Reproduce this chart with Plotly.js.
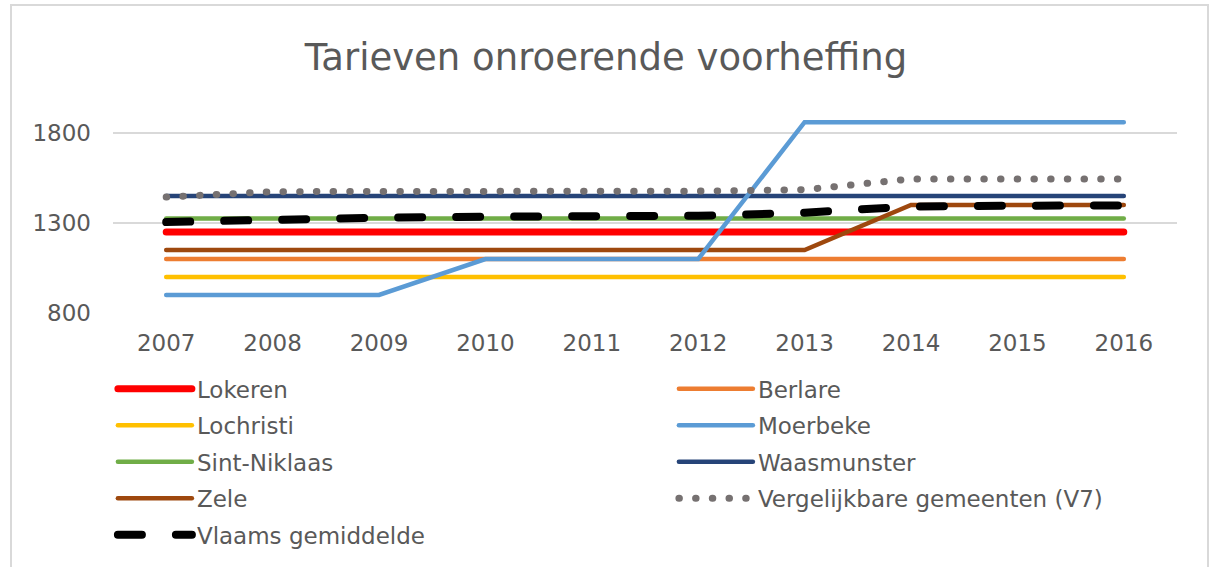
<!DOCTYPE html>
<html>
<head>
<meta charset="utf-8">
<script src="https://cdn.plot.ly/plotly-3.0.1.min.js"></script>
<style>
html,body{margin:0;padding:0;background:#fff;overflow:hidden;}
#wrap{position:relative;width:1212px;height:567px;}
#chart{position:absolute;left:0;top:0;width:1212px;height:567px;}
#frame{position:absolute;left:10px;top:4px;width:1195px;height:620px;border:2px solid #d9d9d9;pointer-events:none;}
#chart path.js-line{stroke-linecap:round;}
</style>
</head>
<body>
<div id="wrap"><div id="chart"></div><div id="frame"></div></div>
<script>
const years = ['2007','2008','2009','2010','2011','2012','2013','2014','2015','2016'];

const lokeren     = [1250,1250,1250,1250,1250,1250,1250,1250,1250,1250];
const berlare     = [1100,1100,1100,1100,1100,1100,1100,1100,1100,1100];
const lochristi   = [1000,1000,1000,1000,1000,1000,1000,1000,1000,1000];
const moerbeke    = [900,900,900,1100,1100,1100,1860,1860,1860,1860];
const sintNiklaas = [1325,1325,1325,1325,1325,1325,1325,1325,1325,1325];
const waasmunster = [1450,1450,1450,1450,1450,1450,1450,1450,1450,1450];
const zele        = [1150,1150,1150,1150,1150,1150,1150,1400,1400,1400];
const v7          = [1444,1474,1475,1475,1475,1477,1485,1545,1545,1545];
const vlaams      = [1305,1322,1330,1335,1338,1340,1357,1392,1396,1398];

const yTicks = [800,1300,1800];

function tr(name, y, color, width, dash, leg, rank){
  return {x: years, y: y, name: name, type: 'scatter', mode: 'lines',
    line: {color: color, width: width, dash: dash || 'solid'}, legend: leg, legendrank: rank};
}

const data = [
  tr('Lokeren', lokeren, '#FF0000', 7, null, 'legend', 1),
  tr('Berlare', berlare, '#ED7D31', 4.5, null, 'legend', 2),
  tr('Lochristi', lochristi, '#FFC000', 4.5, null, 'legend2', 1),
  tr('Sint-Niklaas', sintNiklaas, '#70AD47', 4.5, null, 'legend3', 1),
  tr('Waasmunster', waasmunster, '#264478', 4.5, null, 'legend3', 2),
  tr('Zele', zele, '#9E480E', 4.5, null, 'legend4', 1),
  tr('Moerbeke', moerbeke, '#5B9BD5', 4.5, null, 'legend2', 2),
  tr('Vergelijkbare gemeenten (V7)', v7, '#767171', 7, '0.5px,16.2px', 'legend4', 2),
  tr('Vlaams gemiddelde', vlaams, '#000000', 8, '24px,34px', 'legend5', 1)
];

function leg(y){
  return {orientation: 'h', x: -0.0001, xanchor: 'left', y: y, yanchor: 'top',
    entrywidth: 472, entrywidthmode: 'pixels', itemwidth: 74, tracegroupgap: 0,
    font: {size: 23, color: '#595959', family: 'Verdana, "DejaVu Sans", sans-serif'}, bgcolor: 'rgba(0,0,0,0)'};
}

const layout = {
  width: 1212, height: 567,
  margin: {l: 113, r: 35, t: 97, b: 254, autoexpand: false},
  paper_bgcolor: '#ffffff', plot_bgcolor: '#ffffff',
  font: {family: 'Verdana, "DejaVu Sans", sans-serif', color: '#595959', size: 23},
  title: {text: 'Tarieven onroerende voorheffing', x: 0.5, xanchor: 'center', y: 0.9, yanchor: 'middle', yref: 'container',
    font: {family: 'Verdana, "DejaVu Sans", sans-serif', size: 37, color: '#595959'}},
  xaxis: {type: 'category', range: [-0.5, 9.5], showgrid: false, zeroline: false,
    showline: false, ticks: '', ticklabelstandoff: 14, tickfont: {size: 23, color: '#595959'}},
  yaxis: {range: [800, 2000], tickvals: yTicks, ticktext: yTicks.map(String), showgrid: true,
    gridcolor: '#d9d9d9', gridwidth: 1.5, zeroline: false, showline: false, ticks: '',
    ticklabelstandoff: 21, tickfont: {size: 23, color: '#595959'}},
  showlegend: true,
  legend: leg(-0.2514),
  legend2: leg(-0.4204),
  legend3: leg(-0.5894),
  legend4: leg(-0.7583),
  legend5: leg(-0.9273)
};

Plotly.newPlot('chart', data, layout, {displayModeBar: false, staticPlot: true}).then(function(gd){
  gd.querySelectorAll('path.js-line').forEach(function(p){ p.style.strokeLinecap = 'round'; });
});
</script>
</body>
</html>
